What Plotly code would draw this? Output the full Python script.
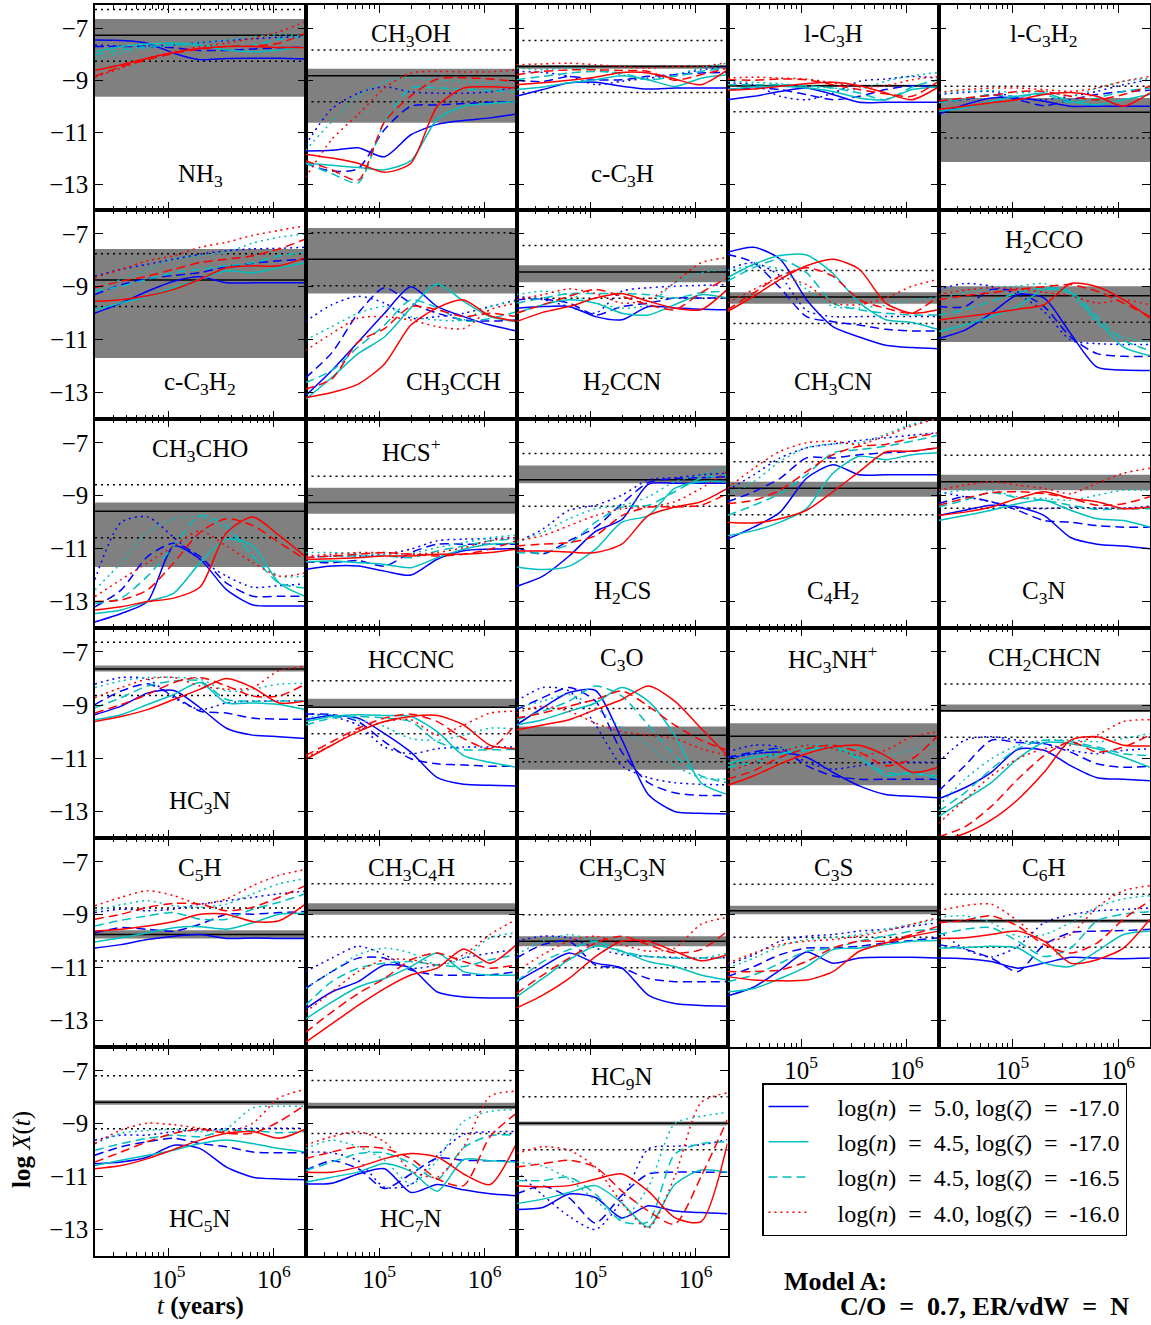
import math
import plotly.graph_objects as go

# ---------------- data ----------------
LOG_T = [4.30, 4.55, 4.80, 5.05, 5.30, 5.55, 5.80, 6.05, 6.30]

SPECIES = ["NH<sub>3</sub>", "CH<sub>3</sub>OH", "c-C<sub>3</sub>H", "l-C<sub>3</sub>H", "l-C<sub>3</sub>H<sub>2</sub>",
           "c-C<sub>3</sub>H<sub>2</sub>", "CH<sub>3</sub>CCH", "H<sub>2</sub>CCN", "CH<sub>3</sub>CN", "H<sub>2</sub>CCO",
           "CH<sub>3</sub>CHO", "HCS<sup>+</sup>", "H<sub>2</sub>CS", "C<sub>4</sub>H<sub>2</sub>", "C<sub>3</sub>N",
           "HC<sub>3</sub>N", "HCCNC", "C<sub>3</sub>O", "HC<sub>3</sub>NH<sup>+</sup>", "CH<sub>2</sub>CHCN",
           "C<sub>5</sub>H", "CH<sub>3</sub>C<sub>4</sub>H", "CH<sub>3</sub>C<sub>3</sub>N", "C<sub>3</sub>S", "C<sub>6</sub>H",
           "HC<sub>5</sub>N", "HC<sub>7</sub>N", "HC<sub>9</sub>N"]
LABEL_POS = ["b", "t", "b", "t", "t",
             "b", "b", "b", "b", "t",
             "t", "t", "b", "b", "b",
             "b", "t", "t", "t", "t",
             "t", "t", "t", "t", "t",
             "b", "b", "t"]
LABEL_X = [0.5] * 28
LABEL_X[6] = 0.70

OBS = [-7.27, -8.83, -8.47, -9.21, -10.23,
       -8.75, -7.96, -8.44, -9.39, -9.34,
       -9.59, -9.26, -8.40, -8.72, -8.47,
       -7.64, -9.08, -10.13, -10.17, -9.21,
       -9.75, -8.83, -10.00, -8.85, -9.23,
       -8.19, -8.37, -8.98]
BAND_LO = [-9.64, -10.64, -8.56, -9.26, -12.15,
           -11.69, -9.26, -8.83, -9.64, -11.09,
           -11.69, -9.68, -8.53, -9.04, -8.79,
           -7.74, -9.10, -11.43, -12.02, -9.26,
           -9.90, -9.00, -10.19, -8.98, -9.30,
           -8.28, -8.44, -9.07]
BAND_HI = [-6.64, -8.56, -8.41, -9.17, -9.68,
           -7.57, -6.78, -8.19, -9.21, -8.98,
           -9.26, -8.70, -7.86, -8.47, -8.21,
           -7.51, -8.76, -9.81, -9.68, -8.98,
           -9.59, -8.57, -9.81, -8.66, -9.17,
           -8.11, -8.21, -8.92]

# curve order: blue solid, blue dashed, blue dotted, cyan solid, cyan dashed, cyan dotted, red solid, red dashed, red dotted
NH3 = [[-7.45, -7.47, -7.57, -7.96, -8.21, -8.16, -8.15, -8.15, -8.18],
       [-7.70, -7.70, -7.70, -7.75, -7.85, -7.85, -7.80, -7.75, -7.72],
       [-7.64, -7.68, -7.68, -7.64, -7.55, -7.47, -7.40, -7.35, -7.32],
       [-7.90, -7.70, -7.60, -7.57, -7.64, -7.83, -7.90, -7.83, -7.70],
       [-8.02, -7.83, -7.70, -7.64, -7.64, -7.70, -7.64, -7.42, -7.30],
       [-8.19, -7.96, -7.77, -7.64, -7.55, -7.45, -7.32, -7.25, -7.30],
       [-8.62, -8.40, -8.15, -7.93, -7.77, -7.70, -7.70, -7.74, -7.74],
       [-8.85, -8.47, -8.21, -7.96, -7.80, -7.70, -7.68, -7.57, -7.19],
       [-8.88, -8.53, -8.15, -7.90, -7.70, -7.57, -7.38, -7.13, -6.74]]
CH3OH = [[-11.73, -11.70, -11.60, -11.95, -11.10, -10.70, -10.55, -10.45, -10.30],
         [-12.20, -12.50, -12.40, -10.90, -10.00, -9.95, -9.90, -9.85, -9.82],
         [-11.50, -10.10, -9.50, -9.25, -9.45, -9.50, -9.50, -9.45, -9.25],
         [-12.20, -12.28, -12.36, -12.45, -12.10, -10.50, -10.00, -9.90, -9.82],
         [-12.20, -12.60, -12.95, -10.60, -9.30, -9.30, -9.35, -9.40, -9.45],
         [-11.70, -10.60, -9.60, -9.05, -8.90, -9.00, -9.05, -9.10, -9.00],
         [-11.85, -12.00, -12.20, -12.55, -12.20, -10.00, -9.30, -9.25, -9.30],
         [-12.10, -12.45, -12.85, -10.60, -9.60, -8.95, -8.90, -8.95, -9.05],
         [-12.75, -11.28, -10.32, -9.30, -8.72, -8.66, -8.68, -8.68, -8.60]]
C_C3H = [[-9.62, -9.36, -9.10, -9.08, -9.23, -9.34, -9.30, -9.30, -9.30],
         [-9.00, -9.05, -8.85, -8.98, -8.98, -8.85, -8.79, -8.72, -8.70],
         [-8.66, -8.70, -8.85, -9.17, -9.04, -8.92, -8.79, -8.60, -8.47],
         [-9.36, -9.26, -9.10, -8.98, -8.83, -8.98, -9.24, -8.92, -8.79],
         [-8.98, -8.85, -8.72, -8.66, -8.72, -8.98, -8.85, -8.66, -8.53],
         [-8.53, -8.60, -8.53, -8.60, -8.79, -8.98, -8.79, -8.53, -8.34],
         [-9.17, -9.10, -9.00, -8.88, -8.70, -8.72, -8.95, -9.17, -8.60],
         [-8.79, -8.66, -8.60, -8.60, -8.62, -8.66, -9.00, -8.79, -8.53],
         [-8.40, -8.37, -8.34, -8.40, -8.47, -8.53, -8.47, -8.47, -8.32]]
L_C3H = [[-9.75, -9.62, -9.43, -9.30, -9.55, -9.85, -9.85, -9.85, -9.85],
         [-9.36, -9.30, -9.36, -9.55, -9.75, -9.62, -9.36, -9.21, -9.26],
         [-9.10, -9.17, -9.62, -9.75, -9.50, -9.04, -8.95, -8.85, -8.92],
         [-9.36, -9.26, -9.23, -9.30, -9.43, -9.68, -9.75, -9.36, -9.26],
         [-9.17, -9.17, -9.17, -9.21, -9.30, -9.49, -9.75, -9.26, -8.98],
         [-9.04, -9.08, -9.13, -9.23, -9.30, -9.36, -9.04, -8.83, -8.70],
         [-9.39, -9.34, -9.23, -9.13, -9.08, -9.21, -9.49, -9.75, -9.26],
         [-8.98, -9.00, -8.95, -8.98, -9.17, -9.36, -9.52, -9.62, -9.04],
         [-8.92, -8.88, -8.92, -8.95, -9.10, -9.26, -9.21, -8.98, -8.85]]
L_C3H2 = [[-10.32, -9.94, -9.68, -9.68, -9.81, -10.00, -10.00, -10.00, -10.00],
          [-9.81, -9.75, -9.55, -9.75, -9.98, -9.75, -9.55, -9.43, -9.39],
          [-9.55, -9.47, -9.43, -9.68, -9.75, -9.62, -9.43, -9.17, -8.98],
          [-10.19, -10.07, -9.81, -9.62, -9.49, -9.81, -9.94, -9.75, -9.55],
          [-9.87, -9.72, -9.55, -9.62, -9.55, -9.87, -9.68, -9.43, -9.30],
          [-9.49, -9.43, -9.39, -9.49, -9.43, -9.62, -9.30, -9.04, -8.92],
          [-10.13, -10.00, -9.87, -9.75, -9.55, -9.47, -9.62, -10.00, -9.49],
          [-9.81, -9.68, -9.59, -9.43, -9.43, -9.62, -9.75, -9.55, -9.23],
          [-9.47, -9.36, -9.30, -9.30, -9.36, -9.43, -9.30, -9.04, -8.85]]
C_C3H2 = [[-10.00, -9.62, -9.17, -8.79, -8.62, -8.85, -8.85, -8.85, -8.85],
          [-9.30, -8.92, -8.70, -8.57, -8.47, -8.24, -8.11, -8.02, -7.96],
          [-8.60, -8.34, -8.15, -7.96, -7.77, -7.64, -7.57, -7.55, -7.51],
          [-9.87, -9.62, -9.36, -9.04, -8.72, -8.40, -8.47, -8.28, -8.09],
          [-9.17, -8.98, -8.72, -8.47, -8.34, -8.21, -8.09, -7.83, -7.70],
          [-9.10, -8.72, -8.34, -7.96, -7.83, -7.70, -7.35, -7.13, -7.00],
          [-9.55, -9.49, -9.34, -9.10, -8.72, -8.28, -8.21, -8.21, -7.90],
          [-9.04, -8.79, -8.60, -8.34, -8.09, -7.96, -7.83, -7.57, -7.20],
          [-8.66, -8.34, -8.02, -7.83, -7.51, -7.32, -7.06, -6.87, -6.70]]
CH3CCH = [[-13.13, -12.17, -11.09, -10.00, -9.00, -9.75, -10.13, -10.45, -10.67],
          [-12.45, -11.50, -10.00, -9.04, -9.62, -10.00, -10.26, -10.30, -10.26],
          [-10.32, -9.68, -9.36, -9.62, -10.19, -10.13, -10.00, -9.75, -9.50],
          [-13.26, -12.43, -11.53, -10.90, -9.80, -8.90, -9.55, -10.13, -10.32],
          [-12.62, -12.17, -11.28, -10.45, -9.50, -9.80, -10.30, -10.20, -9.95],
          [-11.02, -10.51, -10.00, -9.75, -10.13, -10.26, -10.26, -9.75, -9.55],
          [-13.20, -13.00, -12.68, -11.92, -10.45, -9.80, -9.50, -10.10, -10.30],
          [-12.87, -12.49, -11.09, -10.58, -9.75, -9.87, -10.13, -10.00, -10.13],
          [-11.41, -10.77, -10.19, -10.13, -10.26, -10.51, -10.58, -9.87, -9.62]]
H2CCN = [[-9.81, -9.75, -9.75, -10.13, -10.25, -9.75, -9.80, -9.85, -9.87],
         [-9.49, -9.47, -9.62, -10.07, -9.75, -9.62, -9.43, -9.43, -9.43],
         [-9.36, -9.49, -9.75, -10.00, -9.17, -9.04, -8.98, -8.95, -8.92],
         [-10.00, -9.68, -9.49, -9.62, -10.00, -10.07, -9.68, -9.30, -9.43],
         [-9.62, -9.43, -9.26, -9.26, -9.26, -9.30, -9.43, -9.23, -9.17],
         [-9.30, -9.17, -9.30, -9.62, -9.81, -9.68, -8.85, -8.47, -8.34],
         [-10.32, -9.97, -9.75, -9.43, -9.26, -9.55, -9.81, -9.87, -9.10],
         [-10.00, -9.68, -9.36, -9.10, -9.36, -9.68, -9.87, -9.23, -8.66],
         [-9.49, -9.30, -9.08, -9.26, -9.62, -9.49, -8.85, -8.09, -7.90]]
CH3CN = [[-7.70, -7.51, -7.96, -9.49, -10.51, -10.90, -11.21, -11.30, -11.34],
         [-7.77, -8.09, -9.04, -10.13, -10.32, -10.45, -10.61, -10.67, -10.67],
         [-8.34, -8.09, -8.60, -9.90, -10.13, -10.13, -10.13, -10.13, -10.13],
         [-8.66, -8.15, -7.82, -7.80, -8.50, -9.60, -10.25, -10.35, -10.62],
         [-8.79, -8.28, -7.96, -8.47, -9.62, -9.87, -10.00, -10.07, -10.07],
         [-8.40, -8.21, -8.34, -9.10, -9.75, -9.80, -9.70, -9.50, -9.40],
         [-9.94, -9.36, -8.72, -8.21, -7.96, -8.34, -9.62, -10.00, -9.87],
         [-9.87, -9.23, -8.60, -8.28, -8.60, -9.49, -9.81, -10.00, -9.36],
         [-9.62, -9.10, -8.66, -8.92, -9.62, -9.68, -9.43, -8.98, -8.72]]
H2CCO = [[-10.96, -10.64, -10.00, -9.30, -9.43, -10.77, -12.04, -12.15, -12.17],
         [-9.75, -9.75, -9.10, -9.20, -9.75, -10.90, -11.53, -11.63, -11.63],
         [-9.10, -8.88, -8.98, -9.30, -9.94, -11.02, -11.15, -11.18, -11.18],
         [-10.70, -10.45, -10.13, -9.75, -9.10, -9.23, -10.26, -11.28, -11.60],
         [-10.07, -9.87, -9.55, -9.23, -9.04, -9.17, -10.13, -11.02, -11.41],
         [-9.49, -9.21, -9.04, -8.98, -8.88, -9.30, -10.38, -10.90, -11.09],
         [-10.26, -10.13, -10.00, -9.85, -9.68, -8.88, -9.00, -9.49, -10.19],
         [-9.49, -9.34, -9.23, -9.10, -9.00, -8.92, -9.17, -9.62, -10.13],
         [-9.30, -9.13, -9.04, -9.08, -9.21, -9.34, -9.62, -9.49, -9.68]]
CH3CHO = [[-13.77, -13.45, -13.00, -10.90, -11.40, -12.55, -13.13, -13.17, -13.17],
          [-13.20, -12.56, -11.30, -10.80, -11.30, -12.30, -12.80, -12.80, -12.80],
          [-12.17, -10.00, -9.80, -10.58, -11.41, -12.04, -12.46, -12.40, -12.33],
          [-13.45, -13.32, -13.00, -12.68, -11.53, -10.64, -10.90, -12.30, -12.81],
          [-13.07, -12.87, -12.04, -10.90, -9.75, -10.13, -11.28, -12.30, -12.49],
          [-12.56, -11.53, -10.38, -9.87, -9.81, -10.26, -11.28, -12.04, -12.04],
          [-13.32, -13.20, -13.00, -12.87, -12.45, -10.40, -9.80, -10.50, -11.30],
          [-13.00, -12.94, -12.56, -11.53, -10.38, -9.87, -10.13, -10.77, -11.41],
          [-12.81, -12.17, -11.53, -10.90, -10.32, -10.90, -11.53, -12.04, -11.92]]
HCSp = [[-11.79, -11.66, -11.66, -11.85, -12.00, -11.40, -11.08, -11.02, -11.00],
        [-11.50, -11.53, -11.45, -11.66, -11.15, -10.83, -10.83, -10.83, -10.83],
        [-11.34, -11.28, -11.28, -11.21, -11.02, -10.70, -10.64, -10.62, -10.58],
        [-11.50, -11.47, -11.53, -11.60, -11.72, -11.34, -11.02, -10.83, -10.80],
        [-11.34, -11.28, -11.28, -11.28, -11.34, -11.09, -10.90, -10.70, -10.64],
        [-11.15, -11.15, -11.18, -11.21, -11.18, -10.96, -10.77, -10.58, -10.49],
        [-11.41, -11.38, -11.34, -11.28, -11.28, -11.21, -11.21, -11.15, -11.02],
        [-11.34, -11.28, -11.21, -11.15, -11.21, -11.28, -11.21, -11.02, -10.70],
        [-11.28, -11.21, -11.15, -11.15, -11.21, -11.15, -10.96, -10.70, -10.58]]
H2CS = [[-12.43, -12.04, -11.28, -10.35, -9.90, -8.57, -8.53, -8.53, -8.53],
        [-10.96, -11.20, -10.70, -10.20, -9.30, -8.50, -8.35, -8.32, -8.28],
        [-10.77, -10.26, -9.55, -9.36, -8.98, -8.40, -8.32, -8.21, -8.15],
        [-11.69, -11.79, -11.66, -11.02, -10.00, -9.75, -8.72, -8.47, -8.47],
        [-11.15, -11.15, -10.83, -10.00, -9.43, -9.36, -8.85, -8.34, -8.21],
        [-10.77, -10.38, -9.87, -9.49, -9.36, -9.04, -8.47, -8.21, -7.96],
        [-11.09, -11.09, -11.13, -11.15, -10.83, -9.75, -9.43, -9.23, -8.72],
        [-10.90, -10.83, -10.77, -10.51, -9.75, -9.43, -9.43, -9.36, -8.92],
        [-10.70, -10.51, -10.13, -9.75, -9.49, -9.43, -9.23, -8.72, -8.09]]
C4H2 = [[-10.64, -10.19, -9.62, -8.34, -7.83, -8.21, -8.21, -8.21, -8.21],
        [-9.23, -8.85, -8.34, -7.57, -7.57, -7.45, -7.38, -7.32, -7.19],
        [-8.79, -8.21, -7.57, -7.19, -7.04, -6.91, -6.81, -6.71, -6.62],
        [-10.51, -10.32, -10.00, -9.49, -8.15, -7.51, -7.64, -7.45, -7.38],
        [-9.75, -9.36, -8.92, -8.21, -7.38, -7.26, -7.13, -6.94, -6.71],
        [-8.98, -8.47, -7.70, -7.19, -7.04, -7.00, -6.68, -6.30, -6.11],
        [-10.00, -10.03, -9.87, -9.55, -8.85, -8.09, -7.35, -7.32, -7.19],
        [-9.30, -9.17, -8.79, -8.09, -7.45, -7.13, -7.06, -6.81, -6.62],
        [-8.72, -7.96, -7.32, -7.00, -6.94, -7.06, -6.74, -6.36, -6.07]]
C3N = [[-9.75, -9.55, -9.36, -9.43, -9.75, -10.58, -10.83, -10.90, -11.00],
       [-9.30, -9.04, -9.23, -9.55, -9.94, -10.00, -10.13, -10.19, -10.19],
       [-8.85, -9.04, -9.23, -9.43, -9.49, -9.43, -9.47, -9.47, -9.39],
       [-9.94, -9.75, -9.55, -9.30, -9.17, -9.55, -9.87, -9.94, -10.19],
       [-9.43, -9.17, -8.88, -9.08, -9.17, -9.36, -9.52, -9.49, -9.49],
       [-8.92, -8.79, -8.79, -9.04, -9.10, -9.17, -8.98, -8.79, -8.79],
       [-9.75, -9.62, -9.43, -9.10, -8.85, -9.10, -9.23, -9.49, -9.43],
       [-9.36, -9.10, -8.88, -8.85, -8.92, -9.10, -9.36, -9.30, -9.04],
       [-8.79, -8.60, -8.47, -8.60, -8.72, -8.92, -8.53, -8.15, -7.96]]
HC3N = [[-9.36, -9.04, -8.55, -8.45, -9.10, -9.87, -10.13, -10.19, -10.26],
        [-8.98, -8.47, -8.20, -8.66, -9.23, -9.30, -9.49, -9.53, -9.53],
        [-8.21, -7.96, -8.02, -8.72, -9.17, -8.92, -8.85, -8.85, -8.83],
        [-9.55, -9.36, -8.98, -8.60, -8.15, -8.92, -8.92, -8.98, -9.17],
        [-9.10, -8.72, -8.28, -8.09, -8.09, -8.79, -8.85, -8.85, -8.85],
        [-8.34, -8.09, -7.96, -7.96, -8.02, -8.47, -8.40, -8.21, -8.19],
        [-9.62, -9.43, -9.17, -8.79, -8.40, -8.00, -8.34, -8.92, -8.85],
        [-9.30, -8.98, -8.60, -8.15, -7.96, -8.28, -8.66, -8.66, -8.21],
        [-8.72, -8.34, -8.02, -7.96, -8.28, -8.40, -8.34, -7.70, -7.55]]
HCCNC = [[-9.55, -9.39, -9.49, -10.07, -10.77, -11.73, -11.98, -12.02, -12.04],
         [-9.34, -9.36, -9.62, -10.38, -11.02, -11.21, -11.25, -11.30, -11.30],
         [-9.30, -9.43, -9.75, -10.58, -10.83, -10.64, -10.58, -10.58, -10.58],
         [-9.62, -9.43, -9.36, -9.39, -9.43, -10.00, -10.90, -11.15, -11.34],
         [-9.75, -9.49, -9.43, -9.49, -9.62, -10.38, -10.68, -10.68, -10.67],
         [-9.49, -9.36, -9.55, -9.81, -10.26, -10.32, -10.13, -9.87, -9.90],
         [-11.05, -10.51, -10.00, -9.62, -9.43, -9.39, -9.75, -10.51, -10.64],
         [-10.90, -10.38, -9.87, -9.49, -9.34, -9.62, -10.26, -10.64, -9.68],
         [-10.96, -10.51, -9.94, -9.62, -9.55, -10.13, -9.75, -9.30, -9.23]]
C3O = [[-9.75, -9.10, -8.53, -8.45, -10.30, -12.36, -13.00, -13.07, -13.10],
       [-9.17, -8.72, -8.34, -8.85, -10.77, -11.92, -12.30, -12.40, -12.40],
       [-8.85, -8.34, -8.47, -9.75, -11.28, -11.73, -11.92, -11.98, -12.00],
       [-9.75, -9.55, -9.23, -8.92, -8.34, -8.85, -10.13, -11.92, -12.36],
       [-9.55, -9.23, -8.85, -8.28, -8.66, -9.75, -10.90, -11.66, -11.92],
       [-9.10, -8.85, -8.60, -9.10, -9.87, -10.51, -11.28, -11.73, -11.79],
       [-9.94, -9.75, -9.55, -9.17, -8.79, -8.28, -8.85, -9.87, -10.90],
       [-9.49, -9.30, -9.04, -8.79, -8.47, -9.04, -9.75, -10.32, -10.70],
       [-9.30, -9.04, -9.23, -9.68, -10.00, -10.13, -10.26, -10.64, -10.90]]
HC3NHp = [[-11.02, -10.83, -10.77, -10.96, -11.53, -12.04, -12.36, -12.43, -12.49],
          [-10.96, -10.77, -10.64, -11.28, -11.66, -11.79, -11.79, -11.79, -11.79],
          [-10.77, -10.51, -10.58, -11.15, -11.41, -11.28, -11.15, -11.15, -11.15],
          [-11.21, -10.96, -10.83, -10.70, -10.58, -10.96, -11.66, -11.53, -11.79],
          [-11.34, -11.15, -10.83, -10.64, -10.64, -11.02, -11.53, -11.60, -11.66],
          [-11.02, -10.83, -10.64, -10.51, -10.51, -10.64, -10.90, -10.70, -10.51],
          [-12.02, -11.66, -11.21, -10.83, -10.58, -10.51, -10.90, -11.53, -11.34],
          [-11.79, -11.47, -10.96, -10.64, -10.51, -10.77, -11.28, -11.02, -10.13],
          [-11.53, -11.15, -10.77, -10.51, -10.64, -10.90, -10.70, -10.19, -10.00]]
CH2CHCN = [[-12.53, -12.11, -11.53, -10.67, -10.70, -11.28, -11.73, -11.79, -11.85],
           [-12.24, -11.28, -10.32, -10.41, -10.45, -10.77, -11.21, -11.34, -11.30],
           [-11.15, -10.32, -10.19, -10.32, -10.45, -10.70, -10.83, -10.70, -10.64],
           [-13.20, -12.56, -11.92, -11.02, -10.41, -10.45, -10.64, -10.96, -11.34],
           [-13.00, -12.30, -11.41, -10.64, -10.32, -10.38, -10.58, -10.83, -10.90],
           [-12.81, -11.79, -11.02, -10.51, -10.32, -10.32, -10.38, -10.26, -10.07],
           [-14.10, -13.83, -13.32, -12.56, -11.53, -10.32, -10.19, -10.51, -10.54],
           [-13.96, -13.58, -12.81, -11.79, -10.90, -10.38, -10.77, -10.58, -10.13],
           [-13.45, -12.56, -11.66, -11.02, -10.64, -10.51, -10.13, -9.62, -9.55]]
C5H = [[-10.26, -10.13, -9.94, -9.81, -9.75, -9.90, -9.88, -9.90, -9.90],
       [-9.68, -9.49, -9.55, -9.62, -9.36, -8.98, -8.98, -8.92, -8.88],
       [-8.92, -8.79, -8.85, -8.79, -8.60, -8.47, -8.34, -8.21, -8.11],
       [-10.03, -9.87, -9.68, -9.49, -9.45, -9.55, -9.30, -8.98, -8.94],
       [-9.43, -9.21, -9.04, -8.92, -9.17, -9.17, -8.79, -8.53, -8.21],
       [-8.85, -8.62, -8.47, -8.66, -8.72, -8.60, -8.21, -7.83, -7.64],
       [-9.62, -9.55, -9.43, -9.26, -8.98, -8.98, -9.26, -9.23, -8.60],
       [-9.17, -8.98, -8.72, -8.57, -8.60, -8.85, -8.72, -8.34, -7.90],
       [-8.66, -8.34, -8.09, -8.28, -8.60, -8.40, -7.90, -7.51, -7.29]]
CH3C4H = [[-12.56, -11.92, -11.53, -10.90, -11.02, -11.92, -12.11, -12.15, -12.15],
          [-11.79, -11.15, -10.64, -10.64, -11.09, -11.28, -11.28, -11.28, -11.15],
          [-11.15, -10.64, -10.19, -10.51, -11.02, -10.90, -10.64, -10.45, -10.32],
          [-12.94, -12.30, -11.73, -11.41, -10.96, -10.45, -11.15, -11.28, -11.28],
          [-12.43, -11.53, -11.02, -10.83, -10.77, -10.90, -10.96, -10.70, -10.51],
          [-11.79, -11.15, -10.51, -10.26, -10.45, -10.90, -10.64, -9.87, -9.68],
          [-13.83, -13.13, -12.43, -11.79, -11.28, -11.02, -10.30, -10.83, -10.13],
          [-13.45, -12.68, -11.98, -11.41, -10.70, -10.45, -10.77, -11.02, -10.90],
          [-12.68, -11.92, -11.15, -10.70, -10.70, -10.90, -10.51, -9.75, -9.17]]
CH3C3N = [[-11.53, -10.96, -10.45, -10.83, -11.02, -12.04, -12.36, -12.43, -12.46],
          [-10.64, -10.13, -10.00, -10.90, -11.02, -11.41, -11.53, -11.53, -11.53],
          [-10.00, -9.81, -9.87, -10.26, -10.51, -10.58, -10.61, -10.64, -10.62],
          [-12.11, -11.41, -10.70, -10.19, -10.38, -10.77, -10.96, -11.28, -11.47],
          [-11.53, -10.77, -10.32, -10.00, -10.38, -10.58, -10.64, -10.64, -10.64],
          [-10.51, -10.00, -9.75, -10.00, -10.45, -10.58, -10.64, -10.64, -10.45],
          [-12.53, -12.04, -11.41, -10.58, -10.00, -10.00, -10.38, -10.74, -10.51],
          [-11.98, -11.28, -10.64, -10.07, -9.81, -10.13, -10.45, -10.32, -9.62],
          [-11.15, -10.51, -10.00, -9.81, -10.13, -10.38, -10.26, -9.36, -9.10]]
C3S = [[-12.07, -11.73, -11.09, -10.41, -10.83, -10.64, -10.61, -10.61, -10.64],
       [-11.34, -10.96, -10.51, -10.26, -10.26, -10.19, -10.07, -9.97, -9.87],
       [-10.90, -10.51, -10.00, -9.81, -9.75, -9.62, -9.55, -9.43, -9.30],
       [-11.92, -11.79, -11.41, -10.96, -10.32, -10.26, -10.13, -10.00, -9.97],
       [-11.53, -11.28, -10.83, -10.38, -10.26, -10.00, -9.81, -9.62, -9.55],
       [-11.02, -10.64, -10.19, -9.94, -9.87, -9.75, -9.55, -9.36, -9.17],
       [-11.34, -11.47, -11.50, -11.47, -11.15, -10.38, -10.07, -9.81, -9.62],
       [-11.15, -11.15, -11.09, -10.77, -10.26, -10.00, -10.00, -9.75, -9.43],
       [-10.83, -10.45, -10.13, -10.00, -9.94, -9.81, -9.62, -9.36, -9.10]]
C6H = [[-10.64, -10.66, -10.77, -11.02, -10.83, -10.61, -10.64, -10.66, -10.64],
       [-10.13, -10.30, -10.64, -11.15, -10.13, -9.68, -9.62, -9.60, -9.55],
       [-9.60, -10.30, -10.60, -10.20, -9.30, -9.00, -8.85, -8.80, -8.75],
       [-10.26, -10.24, -10.19, -10.26, -10.83, -10.96, -10.38, -9.75, -9.62],
       [-9.75, -9.55, -9.49, -10.00, -10.58, -10.26, -9.23, -8.98, -8.88],
       [-9.10, -9.04, -9.30, -9.81, -9.75, -9.30, -8.72, -8.40, -8.28],
       [-9.90, -9.87, -9.75, -9.62, -10.00, -10.83, -10.70, -10.26, -9.17],
       [-9.30, -9.21, -9.04, -9.43, -10.13, -10.45, -10.07, -9.17, -8.47],
       [-8.85, -8.66, -8.60, -9.23, -10.00, -9.75, -8.72, -8.09, -7.90]]
HC5N = [[-10.51, -10.45, -10.26, -9.81, -9.94, -10.64, -11.02, -11.09, -11.12],
        [-10.19, -9.87, -9.68, -9.55, -9.75, -9.87, -10.07, -10.10, -10.10],
        [-9.62, -9.43, -9.43, -9.30, -9.23, -9.21, -9.17, -9.17, -9.17],
        [-10.58, -10.38, -10.19, -10.00, -9.75, -9.62, -9.75, -9.94, -10.07],
        [-10.00, -9.75, -9.55, -9.43, -9.49, -9.26, -9.26, -9.34, -9.30],
        [-9.75, -9.36, -9.26, -9.21, -9.30, -9.17, -8.40, -8.34, -8.34],
        [-10.70, -10.58, -10.32, -9.97, -9.62, -9.36, -9.30, -9.55, -9.21],
        [-10.45, -10.07, -9.68, -9.36, -9.21, -9.36, -9.36, -8.92, -8.28],
        [-9.75, -9.23, -8.98, -9.04, -9.17, -9.30, -8.98, -8.02, -7.70]]
HC7N = [[-11.28, -11.25, -10.90, -10.70, -11.60, -11.30, -11.50, -11.65, -11.72],
        [-10.77, -10.40, -10.70, -11.45, -10.90, -10.30, -10.38, -10.40, -10.40],
        [-10.07, -10.10, -10.40, -11.40, -11.30, -10.20, -9.40, -9.30, -9.30],
        [-11.21, -11.02, -10.83, -10.50, -10.80, -11.55, -10.35, -10.40, -10.45],
        [-10.77, -10.45, -10.13, -10.10, -10.50, -11.10, -9.90, -9.45, -9.43],
        [-9.94, -9.62, -9.87, -10.38, -11.28, -10.38, -8.90, -8.53, -8.47],
        [-10.83, -10.83, -10.64, -10.32, -10.13, -10.26, -10.90, -11.30, -9.75],
        [-10.32, -10.07, -9.87, -9.94, -10.32, -11.09, -11.34, -9.49, -8.60],
        [-9.81, -9.49, -9.30, -9.68, -10.77, -11.02, -9.87, -7.96, -7.77]]
HC9N = [[-12.24, -12.17, -11.66, -11.79, -12.56, -12.10, -12.30, -12.36, -12.40],
        [-11.66, -11.35, -11.80, -12.75, -11.70, -10.90, -10.83, -10.83, -10.83],
        [-10.80, -11.70, -12.50, -13.00, -11.90, -9.95, -9.85, -9.80, -9.60],
        [-12.02, -11.85, -11.60, -11.34, -12.00, -12.90, -11.30, -10.75, -10.83],
        [-11.15, -11.15, -11.02, -11.66, -12.70, -12.70, -10.15, -9.75, -9.68],
        [-10.45, -10.60, -11.10, -11.90, -12.60, -11.40, -9.00, -8.72, -8.57],
        [-11.34, -11.38, -11.34, -11.10, -10.90, -11.55, -12.55, -12.70, -9.75],
        [-10.64, -10.51, -10.38, -10.64, -11.55, -12.30, -12.80, -11.00, -8.85],
        [-10.13, -9.87, -10.00, -10.64, -12.00, -12.95, -11.00, -8.20, -7.83]]

CURVES = [NH3, CH3OH, C_C3H, L_C3H, L_C3H2,
          C_C3H2, CH3CCH, H2CCN, CH3CN, H2CCO,
          CH3CHO, HCSp, H2CS, C4H2, C3N,
          HC3N, HCCNC, C3O, HC3NHp, CH2CHCN,
          C5H, CH3C4H, CH3C3N, C3S, C6H,
          HC5N, HC7N, HC9N]

EQ = "&nbsp;&nbsp;=&nbsp;&nbsp;"
PAD = "&nbsp;" * 4
LEGEND_NAMES = {0: f"{PAD}log(<i>n</i>){EQ}5.0, log(<i>ζ</i>){EQ}-17.0",
                3: f"{PAD}log(<i>n</i>){EQ}4.5, log(<i>ζ</i>){EQ}-17.0",
                4: f"{PAD}log(<i>n</i>){EQ}4.5, log(<i>ζ</i>){EQ}-16.5",
                8: f"{PAD}log(<i>n</i>){EQ}4.0, log(<i>ζ</i>){EQ}-16.0"}

X_TICKS = [1e5, 1e6]
X_TICKTEXT = ["10<sup>5</sup>", "10<sup>6</sup>"]
X_MINOR = [k * 10 ** e for e in (4, 5) for k in range(2, 10)] + [2e6]
Y_TICKS = [-7, -9, -11, -13]

# ---------------- styling ----------------
W, H = 1151, 1325
XB = [95, 305.5, 516.5, 727.5, 938.5, 1150]
YB = [5, 210, 419, 628, 838, 1047, 1256]
FONT = "Liberation Serif"
COLORS = ["#0000ff"] * 3 + ["#00bfbf"] * 3 + ["#ff0000"] * 3
DASHES = ["solid", "9px,5px", "2px,4px"] * 3


def px(xp):
    return xp / W


def py(yp):
    return 1 - yp / H


fig = go.Figure()
layout = {}
shapes = []
annotations = []

for i in range(28):
    r, c = divmod(i, 5)
    n = i + 1
    xa = "x" if n == 1 else f"x{n}"
    ya = "y" if n == 1 else f"y{n}"
    bottom = (r == 5) or (r == 4 and c >= 3)
    layout["xaxis" if n == 1 else f"xaxis{n}"] = dict(
        type="log", range=[math.log10(2e4), math.log10(2e6)],
        domain=[px(XB[c]), px(XB[c + 1])], anchor=ya,
        showline=True, linecolor="black", linewidth=1.5, mirror="ticks",
        ticks="inside", ticklen=8, tickwidth=1, tickcolor="black",
        tickvals=X_TICKS, ticktext=X_TICKTEXT, showticklabels=bottom,
        tickfont=dict(family=FONT, size=25, color="black"),
        minor=dict(ticks="inside", ticklen=4, tickwidth=1, tickcolor="black",
                   tickvals=X_MINOR, showgrid=False),
        showgrid=False, zeroline=False)
    layout["yaxis" if n == 1 else f"yaxis{n}"] = dict(
        range=[-14, -6.1], domain=[py(YB[r + 1]), py(YB[r])], anchor=xa,
        showline=True, linecolor="black", linewidth=1.5, mirror="ticks",
        ticks="inside", ticklen=8, tickwidth=1, tickcolor="black",
        tickvals=Y_TICKS, showticklabels=(c == 0),
        tickfont=dict(family=FONT, size=25, color="black"),
        showgrid=False, zeroline=False)

    xd = f"{xa} domain"
    shapes.append(dict(type="rect", xref=xd, yref=ya, x0=0, x1=1,
                       y0=BAND_LO[i], y1=BAND_HI[i], fillcolor="#808080",
                       line=dict(width=0), layer="below"))
    shapes.append(dict(type="line", xref=xd, yref=ya, x0=0, x1=1,
                       y0=OBS[i], y1=OBS[i], line=dict(color="black", width=1.5),
                       layer="below"))
    for off in (1, -1):
        shapes.append(dict(type="line", xref=xd, yref=ya, x0=0, x1=1,
                           y0=OBS[i] + off, y1=OBS[i] + off,
                           line=dict(color="black", width=1.5, dash="2px,4px"),
                           layer="below"))

    tx = [10 ** t for t in LOG_T]
    for k, vals in enumerate(CURVES[i]):
        show = (i == 0 and k in LEGEND_NAMES)
        fig.add_trace(go.Scatter(
            x=tx, y=vals, mode="lines", xaxis=xa, yaxis=ya,
            line=dict(color=COLORS[k], width=1.5, dash=DASHES[k],
                      shape="spline", smoothing=0.7),
            name=LEGEND_NAMES.get(k, f"model {k}"), showlegend=show,
            legendgroup=f"g{k}", hoverinfo="skip"))

    annotations.append(dict(xref=xd, yref=f"{ya} domain",
                            x=LABEL_X[i], y=(0.85 if LABEL_POS[i] == "t" else 0.17),
                            text=SPECIES[i], showarrow=False,
                            xanchor="center", yanchor="middle",
                            font=dict(family=FONT, size=25, color="black")))

annotations.append(dict(xref="paper", yref="paper", x=px(22), y=py(1150),
                        text="<b>log</b> <i>X</i>(<i>t</i>)", textangle=-90,
                        showarrow=False, xanchor="center", yanchor="middle",
                        font=dict(family=FONT, size=25, color="black")))
annotations.append(dict(xref="paper", yref="paper", x=px(200), y=py(1306),
                        text="<i>t</i> <b>(years)</b>", showarrow=False,
                        xanchor="center", yanchor="middle",
                        font=dict(family=FONT, size=25, color="black")))
annotations.append(dict(xref="paper", yref="paper", x=px(782), y=py(1281),
                        text="<b>Model A:</b>", showarrow=False,
                        xanchor="left", yanchor="middle",
                        font=dict(family=FONT, size=26, color="black")))
annotations.append(dict(xref="paper", yref="paper", x=px(1131), y=py(1306),
                        text=f"<b>C/O{EQ}0.7, ER/vdW{EQ}N</b>", showarrow=False,
                        xanchor="right", yanchor="middle",
                        font=dict(family=FONT, size=26, color="black")))

fig.update_layout(
    width=W, height=H, autosize=False,
    margin=dict(l=0, r=0, t=0, b=0),
    plot_bgcolor="white", paper_bgcolor="white",
    shapes=shapes, annotations=annotations,
    showlegend=True,
    legend=dict(x=px(762), y=py(1083), xanchor="left", yanchor="top",
                bordercolor="black", borderwidth=1.5, bgcolor="white",
                font=dict(family=FONT, size=24, color="black"),
                traceorder="grouped", tracegroupgap=1, itemwidth=40),
    **layout)

fig.write_html("out.html", config={"displayModeBar": False},
               post_script="document.body.style.margin='0';document.body.style.padding='0';")
